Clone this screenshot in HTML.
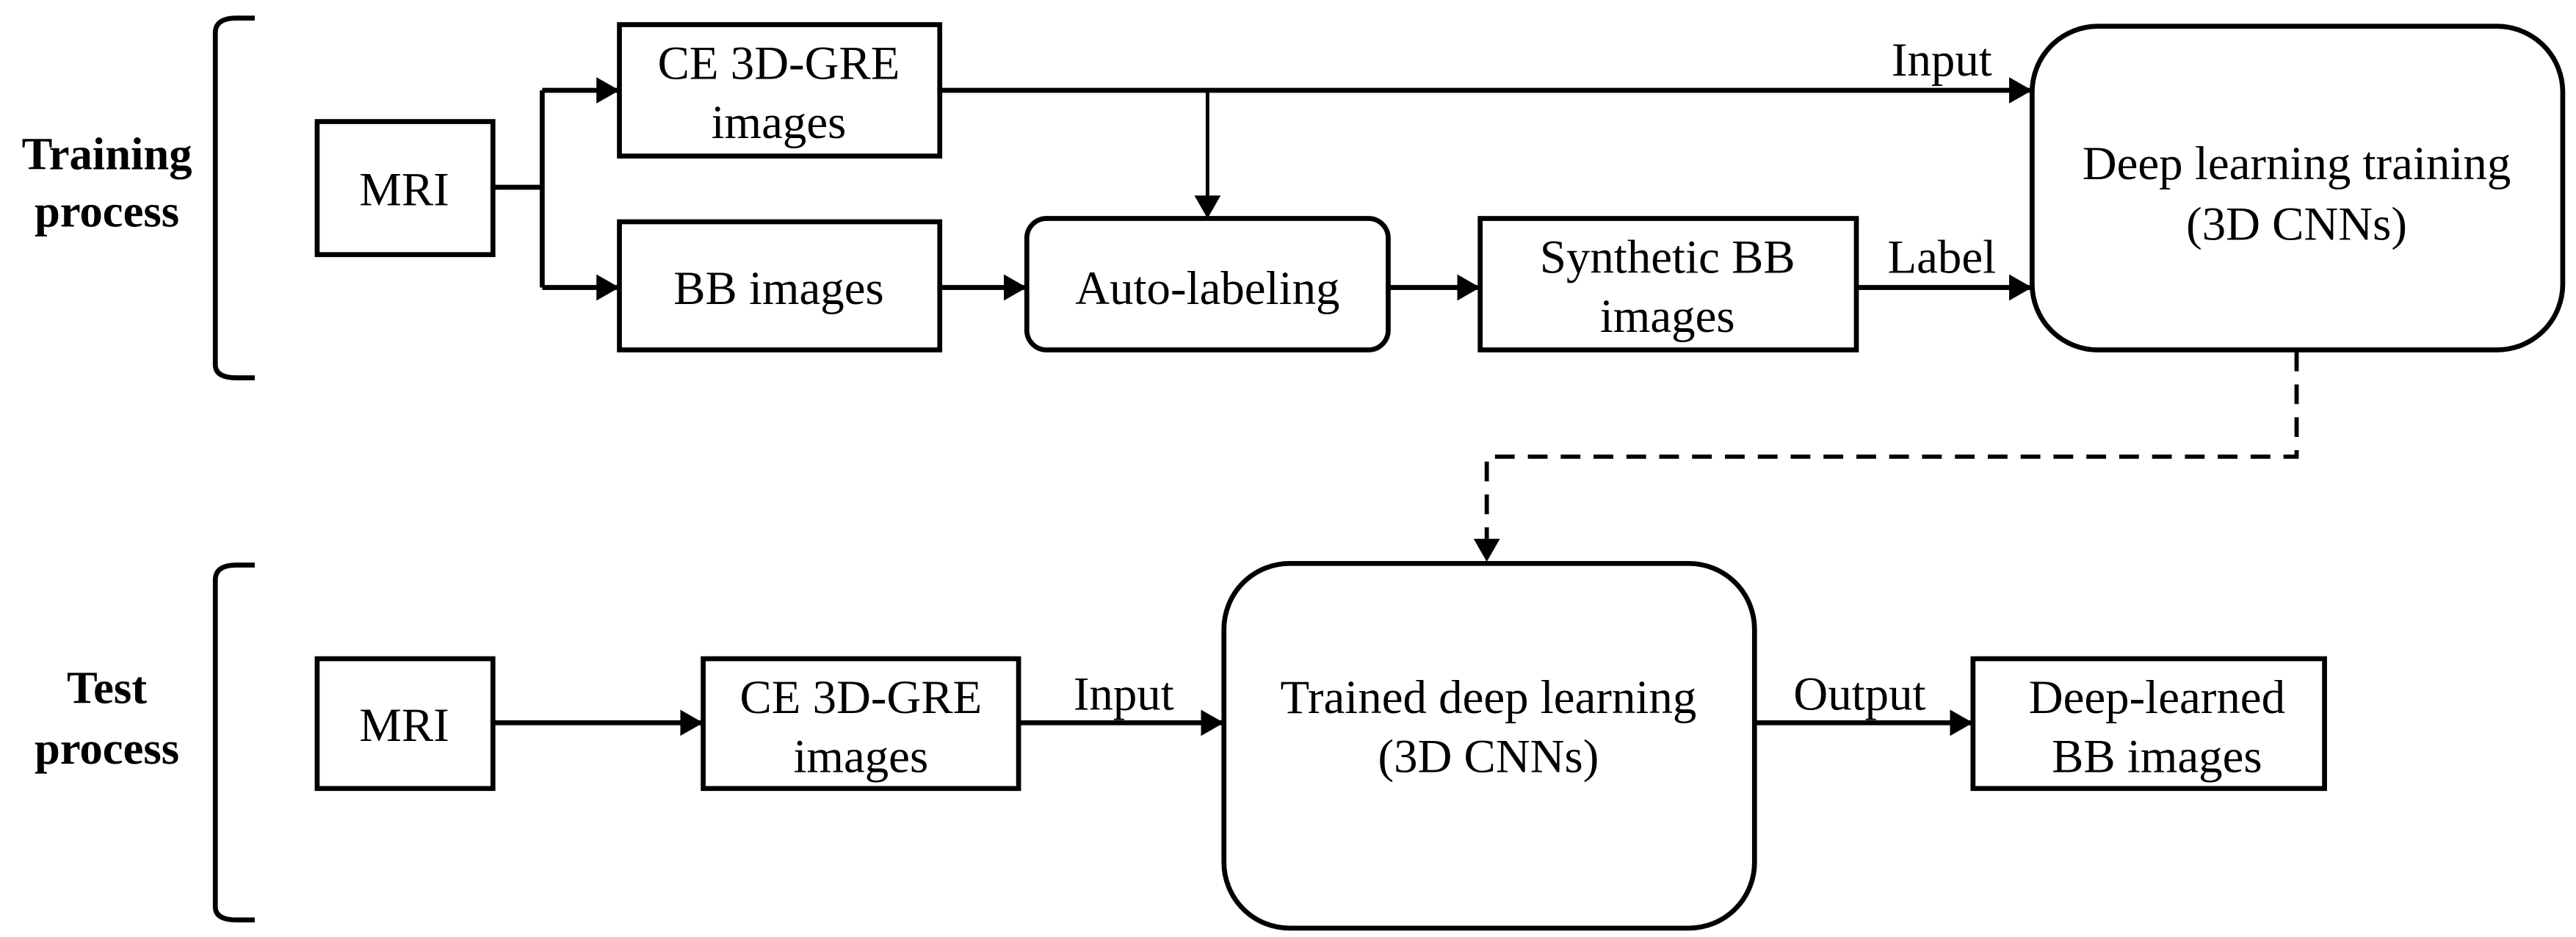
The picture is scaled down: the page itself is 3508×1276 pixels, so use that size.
<!DOCTYPE html>
<html><head><meta charset="utf-8"><style>
html,body{margin:0;padding:0;background:#fff;}
svg{display:block;}
text{font-family:"Liberation Serif","Times New Roman","DejaVu Serif",serif;font-size:29px;fill:#000;}
.b{font-weight:bold;font-size:28px;}
</style></head><body>
<svg width="3508" height="1276" viewBox="0 0 1568 570.4" xmlns="http://www.w3.org/2000/svg" font-family="Liberation Serif, serif">
<defs>
<marker id="a2" markerWidth="14" markerHeight="16" refX="13" refY="8" orient="auto" markerUnits="userSpaceOnUse">
<path d="M0,0 L14,8 L0,16 z" fill="#000"/></marker>
</defs>
<g fill="none" stroke="#000" stroke-width="3">
<path d="M155,11 H144 Q131,11 131,20 V222 Q131,230 144,230 H155"/>
<path d="M155,344 H144 Q131,344 131,353 V552 Q131,560 144,560 H155"/>
<rect x="193" y="74" width="107" height="81"/>
<rect x="377" y="15" width="195" height="80"/>
<rect x="377" y="135" width="195" height="78"/>
<rect x="625" y="133" width="220" height="80" rx="12"/>
<rect x="901" y="133" width="229" height="80"/>
<rect x="1237" y="16" width="323" height="197" rx="40"/>
<rect x="193" y="401" width="107" height="79"/>
<rect x="428" y="401" width="192" height="79"/>
<rect x="745" y="343" width="323" height="222" rx="40"/>
<rect x="1201" y="401" width="214" height="79"/>
<path d="M300,114 H330"/>
<path d="M330,55 V175"/>
<path d="M330,55 H376" marker-end="url(#a2)"/>
<path d="M330,175 H376" marker-end="url(#a2)"/>
<path d="M572,55 H1236" marker-end="url(#a2)"/>
<path d="M735,56 V132" stroke-width="2.2" marker-end="url(#a2)"/>
<path d="M572,175 H624" marker-end="url(#a2)"/>
<path d="M845,175 H900" marker-end="url(#a2)"/>
<path d="M1130,175 H1236" marker-end="url(#a2)"/>
<path d="M1398,214 V278 H905 V341" stroke-dasharray="12,8" stroke-width="2.6" marker-end="url(#a2)"/>
<path d="M300,440 H427" marker-end="url(#a2)"/>
<path d="M620,440 H744" marker-end="url(#a2)"/>
<path d="M1068,440 H1200" marker-end="url(#a2)"/>
</g>
<g text-anchor="middle">
<text class="b" x="65" y="103">Training</text>
<text class="b" x="65" y="138">process</text>
<text class="b" x="65" y="428">Test</text>
<text class="b" x="65" y="465">process</text>
<text x="246" y="125">MRI</text>
<text x="474" y="48">CE 3D-GRE</text>
<text x="474" y="84">images</text>
<text x="474" y="185">BB images</text>
<text x="735" y="185">Auto-labeling</text>
<text x="1015" y="166">Synthetic BB</text>
<text x="1015" y="202">images</text>
<text x="1398" y="109">Deep learning training</text>
<text x="1398" y="146">(3D CNNs)</text>
<text x="1182" y="46">Input</text>
<text x="1182" y="166">Label</text>
<text x="246" y="451">MRI</text>
<text x="524" y="434">CE 3D-GRE</text>
<text x="524" y="470">images</text>
<text x="906" y="434">Trained deep learning</text>
<text x="906" y="470">(3D CNNs)</text>
<text x="1313" y="434">Deep-learned</text>
<text x="1313" y="470">BB images</text>
<text x="684" y="432">Input</text>
<text x="1132" y="432">Output</text>
</g>
</svg>
</body></html>
